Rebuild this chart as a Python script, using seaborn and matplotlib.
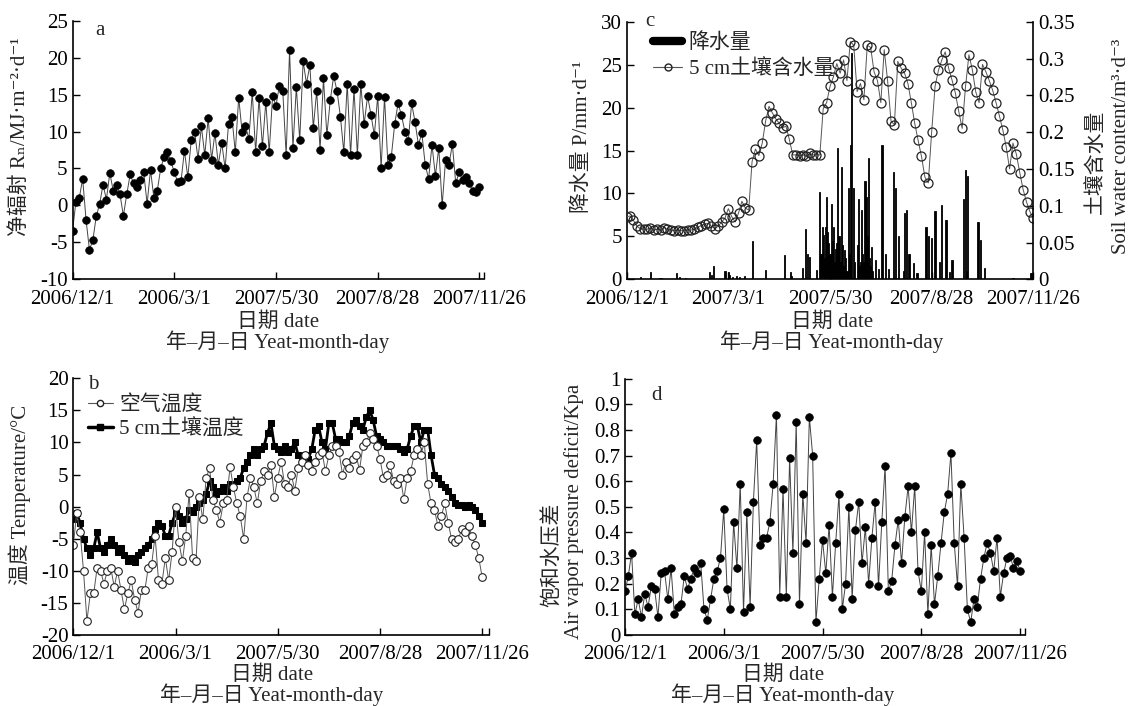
import numpy as np
import matplotlib
matplotlib.use('Agg')
import matplotlib.pyplot as plt
from matplotlib.lines import Line2D
import seaborn as sns

# values, one every 3 days from 2006/12/1 (day 0) to day 360
rn = [-3.5, 0.5, 1.0, 3.6, -2.0, -6.0, -4.7, -1.5, 0.2, 2.8,
      0.8, 4.4, 2.0, 2.8, 1.5, -1.4, 1.5, 4.2, 3.0, 2.5,
      3.5, 4.5, 0.2, 4.8, 1.0, 2.0, 5.0, 6.6, 7.2, 6.0,
      4.5, 3.2, 3.3, 7.4, 3.8, 8.8, 10.0, 6.3, 10.7, 6.8,
      11.8, 6.2, 9.8, 5.5, 8.5, 5.0, 11.0, 12.0, 7.2, 14.6,
      10.0, 10.8, 9.0, 15.3, 7.2, 14.5, 8.0, 14.0, 7.2, 14.8,
      13.5, 16.2, 15.5, 6.8, 21.0, 7.8, 16.0, 8.8, 19.5, 16.5,
      19.0, 10.5, 15.5, 7.5, 17.2, 9.5, 14.2, 17.5, 15.5, 12.0,
      7.2, 16.5, 6.8, 15.8, 6.8, 16.4, 11.0, 14.8, 12.3, 9.5,
      14.8, 5.0, 14.7, 5.5, 6.6, 11.0, 13.8, 12.2, 10.0, 8.7,
      13.8, 11.3, 8.2, 9.8, 5.5, 3.6, 8.2, 4.0, 7.8, 0.0,
      6.2, 5.5, 8.3, 3.0, 4.5, 3.5, 3.8, 3.0, 2.0, 1.8,
      2.5]

air_t = [-6.0, -1.0, -4.0, -10.0, -17.8, -13.5, -13.5, -9.5, -10.0, -12.0,
         -10.0, -9.5, -12.5, -10.0, -13.0, -16.0, -13.5, -11.5, -14.5, -16.5,
         -13.0, -13.0, -9.5, -9.0, -4.5, -11.5, -12.0, -8.0, -11.5, -7.0,
         0.0, -5.5, -8.5, -4.5, 2.2, -8.0, -8.5, 1.5, -2.0, 4.5,
         6.0, 1.0, -0.5, -2.5, 0.5, 1.0, 6.2, 3.0, 0.5, -1.5,
         -5.0, 1.5, 4.5, 3.0, 0.5, 4.0, 5.5, 5.0, 6.5, 1.5,
         4.5, 7.0, 3.5, 3.0, 5.0, 2.5, 6.0, 7.0, 8.0, 6.5,
         5.5, 7.0, 8.0, 8.5, 5.5, 8.0, 9.5, 9.5, 8.5, 5.0,
         7.0, 6.0, 7.5, 8.0, 5.7, 9.5, 10.0, 11.5, 10.5, 9.5,
         7.5, 4.5, 5.0, 6.5, 4.0, 3.5, 4.5, 1.2, 4.5, 5.5,
         8.0, 9.0, 8.0, 10.0, 3.5, 0.5, -0.5, -3.0, -1.5, 0.5,
         -2.5, -5.0, -5.5, -5.0, -3.5, -4.0, -3.0, -4.5, -6.0, -8.0,
         -11.0]

soil_t = [-2.0, -1.0, -2.5, -5.0, -6.5, -7.5, -6.5, -4.0, -6.5, -7.0,
          -6.0, -5.0, -6.0, -7.0, -6.5, -7.5, -8.5, -8.0, -8.7, -7.5,
          -7.0, -6.5, -6.0, -5.0, -3.5, -2.5, -3.0, -4.5, -4.5, -2.5,
          -1.0, -1.5, -2.5, -2.0, -0.5, -0.8, 0.0, 0.5, 1.0, 2.0,
          4.0, 3.0, 2.0, 2.5, 3.0, 2.5, 3.5, 3.0, 4.0, 4.5,
          6.0, 7.0, 8.0, 9.0, 8.0, 9.0, 9.5, 11.5, 13.0, 9.5,
          9.0, 8.5, 9.5, 8.5, 9.0, 10.0, 8.0, 7.5, 8.0, 7.5,
          9.0, 12.0, 12.5, 10.0, 9.0, 13.0, 13.0, 10.5, 10.5, 10.0,
          10.0, 11.0, 13.0, 13.5, 12.5, 12.0, 14.0, 15.0, 13.5, 11.0,
          10.5, 10.0, 9.5, 9.5, 9.5, 9.5, 9.0, 8.5, 9.0, 11.0,
          12.5, 12.5, 10.0, 12.0, 12.0, 8.0, 5.0, 4.5, 3.5, 3.0,
          2.5, 1.5, 0.5, 0.3, 0.2, 0.0, 0.2, 0.0, -0.5, -1.5,
          -2.5]

swc = [0.085, 0.086, 0.080, 0.072, 0.069, 0.068, 0.068, 0.070, 0.067, 0.068,
       0.067, 0.070, 0.068, 0.067, 0.066, 0.067, 0.066, 0.066, 0.067, 0.067,
       0.068, 0.071, 0.073, 0.075, 0.076, 0.072, 0.069, 0.072, 0.078, 0.083,
       0.096, 0.085, 0.078, 0.090, 0.106, 0.097, 0.094, 0.160, 0.177, 0.168,
       0.185, 0.215, 0.235, 0.226, 0.218, 0.212, 0.206, 0.208, 0.190, 0.169,
       0.169, 0.168, 0.169, 0.167, 0.171, 0.169, 0.169, 0.169, 0.232, 0.240,
       0.262, 0.275, 0.293, 0.280, 0.298, 0.270, 0.323, 0.318, 0.255, 0.266,
       0.244, 0.318, 0.315, 0.282, 0.270, 0.240, 0.312, 0.270, 0.215, 0.210,
       0.296, 0.287, 0.280, 0.266, 0.240, 0.212, 0.189, 0.167, 0.139, 0.131,
       0.200, 0.262, 0.284, 0.298, 0.309, 0.287, 0.271, 0.253, 0.228, 0.205,
       0.262, 0.305, 0.285, 0.255, 0.240, 0.292, 0.282, 0.270, 0.257, 0.240,
       0.222, 0.203, 0.180, 0.150, 0.185, 0.170, 0.145, 0.122, 0.105, 0.092,
       0.083]

vpd = [0.17, 0.23, 0.32, 0.08, 0.14, 0.07, 0.16, 0.11, 0.19, 0.18,
       0.07, 0.24, 0.25, 0.14, 0.26, 0.08, 0.11, 0.12, 0.23, 0.18,
       0.22, 0.26, 0.24, 0.28, 0.10, 0.06, 0.14, 0.22, 0.25, 0.30,
       0.49, 0.18, 0.10, 0.44, 0.26, 0.59, 0.09, 0.48, 0.11, 0.52,
       0.76, 0.35, 0.38, 0.38, 0.44, 0.59, 0.86, 0.15, 0.57, 0.15,
       0.69, 0.32, 0.83, 0.12, 0.55, 0.36, 0.85, 0.70, 0.05, 0.22,
       0.37, 0.24, 0.43, 0.15, 0.36, 0.55, 0.10, 0.20, 0.50, 0.14,
       0.41, 0.52, 0.28, 0.42, 0.20, 0.38, 0.52, 0.19, 0.44, 0.66,
       0.17, 0.21, 0.35, 0.45, 0.28, 0.46, 0.58, 0.40, 0.58, 0.25,
       0.17, 0.40, 0.08, 0.35, 0.12, 0.23, 0.36, 0.48, 0.55, 0.71,
       0.36, 0.19, 0.59, 0.38, 0.10, 0.05, 0.14, 0.11, 0.22, 0.30,
       0.36, 0.32, 0.25, 0.38, 0.15, 0.24, 0.30, 0.31, 0.26, 0.29,
       0.25]

# daily precipitation: day number and mm
rain_day = [12, 21, 29, 31, 44, 47, 52, 73, 75, 77, 87, 90, 91, 94, 97, 100, 104,
            111, 123, 140, 145, 146, 156, 158, 160, 162, 168,
            171, 172, 173, 174, 175, 176, 177, 178, 179, 180, 181, 182, 183, 184,
            185, 186, 187, 188, 189, 190, 191, 192, 193, 194, 195, 196, 197, 198,
            199, 201, 202, 204, 205, 206, 207, 208, 209, 210, 211, 212, 213, 214,
            215, 216, 217, 218, 220, 223, 226, 229, 232, 236, 238, 241, 245, 246,
            248, 250, 254, 257, 265, 267, 270, 273, 277, 279, 282, 283, 286, 288,
            298, 300, 301, 302, 311, 313, 317, 342, 358]
rain_mm = [0.3, 0.8, 0.2, 0.2, 0.7, 0.3, 0.2, 0.8, 0.5, 1.5, 1.0, 0.9, 0.5, 0.3, 0.4, 0.3, 0.4,
           4.5, 1.1, 2.8, 0.9, 0.4, 1.3, 5.9, 3.0, 2.6, 1.1,
           10.2, 3.0, 6.1, 5.2, 2.5, 6.1, 9.6, 5.5, 4.2, 3.0, 8.8, 4.5, 6.1, 2.0,
           3.5, 4.2, 15.3, 5.0, 2.0, 13.1, 4.0, 1.5, 3.4, 2.5, 1.0, 10.6, 3.0, 15.6,
           26.3, 10.6, 2.0, 4.0, 9.4, 1.5, 2.0, 8.1, 3.0, 2.0, 11.4, 9.6, 5.0, 14.1,
           2.5, 1.5, 3.8, 1.0, 2.2, 1.2, 15.6, 3.0, 1.2, 12.5, 10.6, 5.0, 1.0, 7.7,
           8.1, 3.0, 1.9, 0.7, 6.1, 5.0, 4.8, 7.9, 2.0, 8.7, 6.9, 6.9, 0.9, 2.2,
           9.4, 12.7, 1.0, 12.0, 6.7, 4.6, 1.3, 0.2, 0.7]

day = np.arange(0, 361, 3)
date_labels = ['2006/12/1', '2006/3/1', '2007/5/30', '2007/8/28', '2007/11/26']
date_labels_c = ['2006/12/1', '2007/3/1', '2007/5/30', '2007/8/28', '2007/11/26']

sns.set_theme(style='ticks')
plt.rcParams['font.family'] = ['Liberation Serif', 'DejaVu Serif', 'Noto Sans CJK SC']
plt.rcParams['font.size'] = 15
plt.rcParams['axes.unicode_minus'] = False

W, H = 1131, 706
fig = plt.figure(figsize=(W / 100, H / 100), dpi=100)


def px_axes(l, t, r, b):
    return fig.add_axes([l / W, 1 - b / H, (r - l) / W, (b - t) / H])


def fig_text(x, y, s, **kw):
    fig.text(x / W, 1 - y / H, s, ha='center', va='center', **kw)


def style(ax, xmax, labels):
    ax.set_xlim(0, xmax)
    ax.set_xticks([0, 90, 180, 270, 360])
    ax.set_xticklabels(labels)
    ax.set_xticks([xmax], minor=True)
    ax.tick_params(which='both', direction='in', length=5, width=1,
                   colors='black', labelsize=15, pad=3.5)
    ax.tick_params(axis='x', which='both', pad=7.5)
    for s in ['top', 'right']:
        ax.spines[s].set_visible(False)
    for s in ['left', 'bottom']:
        ax.spines[s].set_linewidth(1.2)
        ax.spines[s].set_color('black')
    ax.set_xlabel('')
    ax.set_ylabel('')


ax_a = px_axes(72.5, 20.7, 484, 279.3)
ax_b = px_axes(73.3, 378.3, 489, 635)
ax_c = px_axes(626.7, 21.7, 1033.3, 279.3)
ax_d = px_axes(625, 378.7, 1025, 635)

# a: net radiation
sns.lineplot(x=day, y=rn, ax=ax_a, color='#444444', linewidth=0.7, marker='o',
             markersize=5.5, markerfacecolor='black', markeredgecolor='black',
             markeredgewidth=0.5)
style(ax_a, 364, date_labels)
ax_a.set_ylim(-10, 25)
ax_a.set_yticks(range(-10, 26, 5))
ax_a.text(0.067, 0.962, 'a', transform=ax_a.transAxes, ha='center', va='center', fontsize=15)

# b: air and soil temperature
sns.lineplot(x=day, y=soil_t, ax=ax_b, color='black', linewidth=2, marker='s',
             markersize=5, markerfacecolor='black', markeredgecolor='black')
sns.lineplot(x=day, y=air_t, ax=ax_b, color='#555555', linewidth=0.7, marker='o',
             markersize=5.5, markerfacecolor='white', markeredgecolor='#222222',
             markeredgewidth=0.8)
style(ax_b, 366, date_labels)
ax_b.set_ylim(-20, 20)
ax_b.set_yticks(range(-20, 21, 5))
ax_b.text(0.047, 0.975, 'b', transform=ax_b.transAxes, ha='center', va='center', fontsize=15)
h_air = Line2D([], [], color='#555555', lw=0.8, marker='o', ms=4.5, mfc='white', mec='#222222')
h_soil = Line2D([], [], color='black', lw=2.5, marker='s', ms=4.5)
ax_b.legend(handles=[h_air, h_soil], labels=['空气温度', '5 cm土壤温度'], loc='upper left',
            bbox_to_anchor=(0.035, 0.935), frameon=False, handlelength=1.2,
            handletextpad=0.3, labelspacing=0.2, borderaxespad=0, borderpad=0, fontsize=15)

# c: precipitation bars and soil water content
sns.histplot(x=rain_day, weights=rain_mm, discrete=True, ax=ax_c, color='black',
             alpha=1, edgecolor='black', linewidth=0.6)
style(ax_c, 360, date_labels_c)
ax_c.set_xticks([], minor=True)
ax_c.set_ylim(0, 30)
ax_c.set_yticks(range(0, 31, 5))
ax_c.text(0.057, 1.0, 'c', transform=ax_c.transAxes, ha='center', va='center', fontsize=15)
h_rain = Line2D([], [], color='black', lw=6)
h_swc = Line2D([], [], color='#555555', lw=0.8, marker='o', ms=5, mfc='none', mec='#222222')
ax_c.legend(handles=[h_rain, h_swc], labels=['降水量', '5 cm土壤含水量'], loc='upper left',
            bbox_to_anchor=(0.065, 0.955), frameon=False, handlelength=1.4,
            handletextpad=0.3, labelspacing=0.3, borderaxespad=0, borderpad=0, fontsize=15)

ax_c2 = ax_c.twinx()
sns.lineplot(x=day, y=swc, ax=ax_c2, color='#555555', linewidth=0.7, marker='o',
             markersize=6.5, markerfacecolor='none', markeredgecolor='#222222',
             markeredgewidth=0.9)
ax_c2.set_ylim(0, 0.35)
ax_c2.set_yticks(np.arange(0, 0.351, 0.05))
ax_c2.set_yticklabels(['0', '0.05', '0.1', '0.15', '0.2', '0.25', '0.3', '0.35'])
ax_c2.set_ylabel('')
ax_c2.tick_params(direction='in', length=5, width=1, colors='black', labelsize=15, pad=3.5)
for s in ['top', 'left', 'bottom']:
    ax_c2.spines[s].set_visible(False)
ax_c2.spines['right'].set_linewidth(1.2)
ax_c2.spines['right'].set_color('black')

# d: vapour pressure deficit
sns.lineplot(x=day, y=vpd, ax=ax_d, color='#444444', linewidth=0.7, marker='o',
             markersize=5.5, markerfacecolor='black', markeredgecolor='black',
             markeredgewidth=0.5)
style(ax_d, 364.5, date_labels)
ax_d.set_ylim(0, 1)
ax_d.set_yticks(np.arange(0, 1.01, 0.1))
ax_d.set_yticklabels(['0', '0.1', '0.2', '0.3', '0.4', '0.5', '0.6', '0.7', '0.8', '0.9', '1'])
ax_d.text(0.08, 0.935, 'd', transform=ax_d.transAxes, ha='center', va='center', fontsize=15)

# axis titles
fig_text(20, 137, '净辐射 Rₙ/MJ·m⁻²·d⁻¹', rotation=90)
fig_text(20, 495, '温度 Temperature/°C', rotation=90)
fig_text(582, 137, '降水量 P/mm·d⁻¹', rotation=90)
fig_text(1096, 162, '土壤含水量', rotation=90)
fig_text(1122, 146, 'Soil water content/m³·d⁻³', rotation=90)
fig_text(553, 555, '饱和水压差', rotation=90)
fig_text(574, 511, 'Air vapor pressure deficit/Kpa', rotation=90)

for cx, top in [(278, 322), (832, 322), (272, 675), (783, 675)]:
    fig_text(cx, top, '日期 date')
    fig_text(cx, top + 20, '年–月–日 Yeat-month-day')

fig.savefig('out.png', dpi=100)
